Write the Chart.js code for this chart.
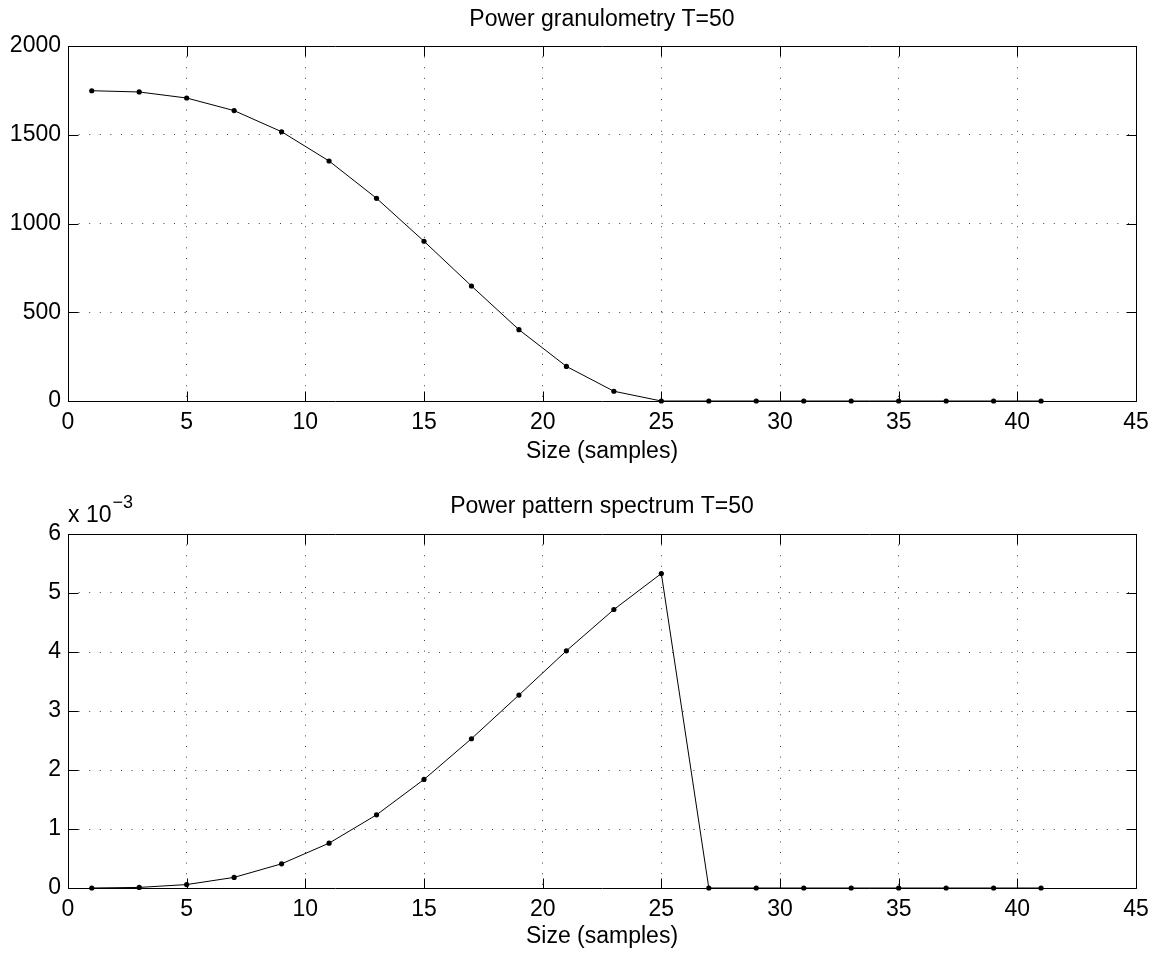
<!DOCTYPE html>
<html>
<head>
<meta charset="utf-8">
<script src="https://cdn.jsdelivr.net/npm/chart.js@4.4.0/dist/chart.umd.min.js"></script>
<style>
  html, body { margin: 0; padding: 0; background: #fff; }
  .plot { position: absolute; left: 0; width: 1159px; height: 477px; }
</style>
</head>
<body>
<div class="plot" style="top:0"><canvas id="granChart"></canvas></div>
<div class="plot" style="top:477px"><canvas id="specChart"></canvas></div>
<script>
// sizes of the structuring element (samples)
const sizes = [1, 3, 5, 7, 9, 11, 13, 15, 17, 19, 21, 23, 25, 27, 29, 31, 33, 35, 37, 39, 41];
const granulometry = [1748, 1741, 1707, 1636, 1517, 1352, 1142, 900, 648, 402, 195, 55, 0, 0, 0, 0, 0, 0, 0, 0, 0];
const patternSpectrum = [0, 0.00001, 0.000058, 0.00018, 0.00041, 0.00076, 0.00124, 0.00184, 0.00253, 0.00327, 0.00402, 0.00472, 0.00533, 0, 0, 0, 0, 0, 0, 0, 0];

const xTicks = [0, 5, 10, 15, 20, 25, 30, 35, 40, 45];
const granTicks = [0, 500, 1000, 1500, 2000];
const specTicks = [0, 0.001, 0.002, 0.003, 0.004, 0.005, 0.006];

const FONT = 'Liberation Sans, Arial, Helvetica, sans-serif';

// box round the axes, the short inward ticks matlab draws, and the title
// centred over the axes (not the whole canvas)
const frame = {
  id: 'frame',
  afterDraw(chart, args, opts) {
    const ctx = chart.ctx;
    const a = chart.chartArea;
    const xs = chart.scales.x, ys = chart.scales.y;
    const L = Math.round(a.left) + 0.5, R = Math.round(a.right) + 0.5;
    const T = Math.round(a.top) + 0.5, B = Math.round(a.bottom) + 0.5;
    ctx.save();
    ctx.strokeStyle = '#000';
    ctx.lineWidth = 1;
    ctx.beginPath();
    ctx.rect(L, T, R - L, B - T);
    xs.ticks.forEach(t => {
      const px = Math.round(xs.getPixelForValue(t.value)) + 0.5;
      ctx.moveTo(px, B); ctx.lineTo(px, B - 10);
      ctx.moveTo(px, T); ctx.lineTo(px, T + 10);
    });
    ys.ticks.forEach(t => {
      const py = Math.round(ys.getPixelForValue(t.value)) + 0.5;
      ctx.moveTo(L, py); ctx.lineTo(L + 10, py);
      ctx.moveTo(R, py); ctx.lineTo(R - 10, py);
    });
    ctx.stroke();

    ctx.fillStyle = '#000';
    ctx.font = '23px ' + FONT;
    ctx.textAlign = 'center';
    ctx.textBaseline = 'middle';
    ctx.fillText(opts.title, (a.left + a.right) / 2, opts.titleY);

    if (opts.exponent) {
      // "x 10^-3" multiplier above the y axis
      ctx.textAlign = 'left';
      ctx.textBaseline = 'alphabetic';
      ctx.fillText('x 10', a.left, 45);
      const w = ctx.measureText('x 10').width;
      ctx.font = '18px ' + FONT;
      ctx.fillText('\u22123', a.left + w + 1, 31);
    }
    ctx.restore();
  }
};

function makeChart(id, title, values, yTicks, opts) {
  const points = sizes.map((s, i) => ({ x: s, y: values[i] }));
  return new Chart(document.getElementById(id), {
    type: 'line',
    data: {
      datasets: [{
        data: points,
        borderColor: '#000',
        borderWidth: 1,
        backgroundColor: '#000',
        pointRadius: 2.6,
        pointBorderWidth: 0,
        pointBackgroundColor: '#000',
        tension: 0,
        clip: 6
      }]
    },
    options: {
      responsive: true,
      maintainAspectRatio: false,
      animation: false,
      layout: { padding: { left: 0, right: 23, top: opts.top, bottom: 0 } },
      plugins: {
        legend: { display: false },
        tooltip: { enabled: false },
        frame: { title: title, titleY: opts.titleY, exponent: opts.exponent }
      },
      scales: {
        x: {
          type: 'linear',
          min: 0,
          max: 45,
          afterBuildTicks: s => { s.ticks = xTicks.map(v => ({ value: v })); },
          ticks: { color: '#000', font: { family: FONT, size: 23 }, padding: 8, maxRotation: 0 },
          grid: { color: '#444', drawTicks: false, lineWidth: 1 },
          border: { display: false, dash: [1, 9.6] },
          title: {
            display: true,
            text: 'Size (samples)',
            color: '#000',
            font: { family: FONT, size: 23 },
            padding: { top: 0, bottom: opts.xTitlePad }
          },
          afterFit: s => { s.height = opts.xHeight; }
        },
        y: {
          min: yTicks[0],
          max: yTicks[yTicks.length - 1],
          afterBuildTicks: s => { s.ticks = yTicks.map(v => ({ value: v })); },
          ticks: {
            color: '#000',
            font: { family: FONT, size: 23 },
            padding: 7,
            callback: opts.yLabel
          },
          grid: { color: '#444', drawTicks: false, lineWidth: 1 },
          border: { display: false, dash: [1, 9.6] },
          afterFit: s => { s.width = 68; }
        }
      }
    },
    plugins: [frame]
  });
}

makeChart('granChart', 'Power granulometry T=50', granulometry, granTicks, {
  top: 46,
  titleY: 20,
  exponent: false,
  xHeight: 76,
  xTitlePad: 11.5,
  yLabel: v => String(v)
});

makeChart('specChart', 'Power pattern spectrum T=50', patternSpectrum, specTicks, {
  top: 57,
  titleY: 30,
  exponent: true,
  xHeight: 66,
  xTitlePad: 3.5,
  yLabel: v => String(Math.round(v * 1000))
});
</script>
</body>
</html>
